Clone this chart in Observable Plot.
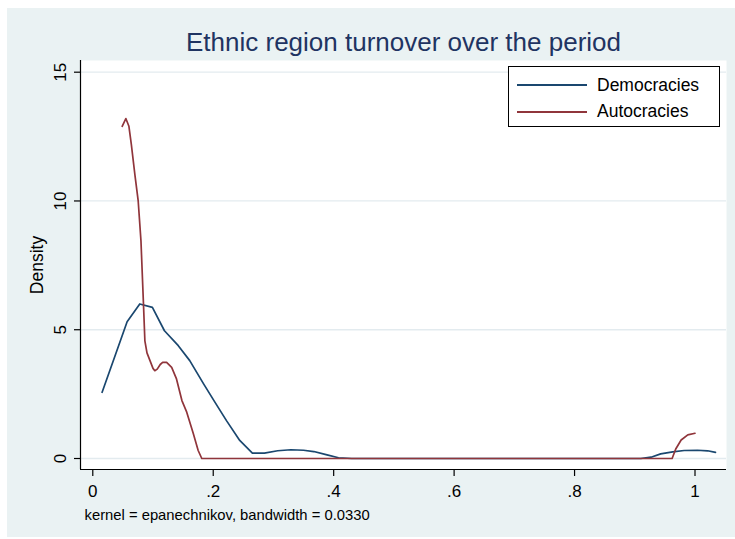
<!DOCTYPE html>
<html><head><meta charset="utf-8">
<script src="https://cdn.jsdelivr.net/npm/d3@7"></script>
<script src="https://cdn.jsdelivr.net/npm/@observablehq/plot@0.6"></script>
<style>
body{margin:0;background:#fff;}
#wrap{position:relative;width:735px;height:539px;font-family:"Liberation Sans",Arial,Helvetica,sans-serif;overflow:hidden;}
#bg{position:absolute;left:7px;top:8px;right:0;bottom:2px;background:#eaf2f3;}
#chart{position:absolute;left:0;top:0;}
#legend{position:absolute;left:508px;top:66px;width:210px;height:59px;border:1px solid #000;background:#fff;}
.row{position:absolute;left:0;height:20px;display:flex;align-items:center;font-size:17.5px;color:#000;}
.sw{display:inline-block;width:70px;height:2px;margin-left:8px;margin-right:10px;}
</style></head>
<body>
<div id="wrap"><div id="bg"></div><div id="chart"></div><div id="legend"></div></div>
<script>
const title = "Ethnic region turnover over the period";
const caption = "kernel = epanechnikov, bandwidth = 0.0330";
const yLabel = "Density";
const seriesNames = ["Democracies", "Autocracies"];
const seriesColors = ["#1a476f", "#90353b"];
const xTicks = [0, 0.2, 0.4, 0.6, 0.8, 1];
const xTickLabels = ["0", ".2", ".4", ".6", ".8", "1"];
const yTicks = [0, 5, 10, 15];
const yTickLabels = ["0", "5", "10", "15"];

const demX = [0.0155, 0.037, 0.057, 0.078, 0.099, 0.119, 0.142, 0.161, 0.184, 0.203, 0.222, 0.244, 0.265, 0.285, 0.307, 0.329, 0.350, 0.367, 0.389, 0.408, 0.43, 0.91, 0.927, 0.943, 0.963, 0.982, 1.004, 1.021, 1.034];
const demY = [2.57, 3.99, 5.31, 6.00, 5.87, 4.96, 4.38, 3.80, 2.90, 2.18, 1.47, 0.70, 0.21, 0.21, 0.30, 0.34, 0.32, 0.27, 0.14, 0.03, 0, 0, 0.05, 0.18, 0.26, 0.31, 0.32, 0.30, 0.24];

const autX = [0.0488, 0.0549, 0.060, 0.064, 0.070, 0.0754, 0.080, 0.084, 0.0865, 0.090, 0.095, 0.100, 0.103, 0.107, 0.112, 0.116, 0.1226, 0.131, 0.139, 0.148, 0.156, 0.167, 0.175, 0.181, 0.962, 0.968, 0.977, 0.988, 1.0];
const autY = [12.9, 13.2, 12.9, 12.2, 11.0, 10.0, 8.45, 6.1, 4.57, 4.1, 3.8, 3.5, 3.41, 3.47, 3.65, 3.73, 3.73, 3.54, 3.09, 2.25, 1.8, 0.96, 0.31, 0.0, 0, 0.37, 0.72, 0.92, 0.98];

const dem = demX.map((x, i) => ({x, y: demY[i]}));
const aut = autX.map((x, i) => ({x, y: autY[i]}));

const xDom = [-0.0204, 1.0523];
const yDom = [-0.427, 15.454];

const chart = Plot.plot({
  width: 735, height: 539,
  marginLeft: 80, marginRight: 9, marginTop: 60, marginBottom: 70,
  style: {background: "transparent", fontFamily: '"Liberation Sans", Arial, Helvetica, sans-serif', color: "#000", overflow: "visible"},
  x: {domain: xDom, label: null},
  y: {domain: yDom, label: null},
  marks: [
    Plot.frame({fill: "white", stroke: null}),
    Plot.gridY(yTicks, {stroke: "#e3ebef", strokeOpacity: 1, strokeWidth: 1.3}),
    Plot.line(dem, {x: "x", y: "y", stroke: seriesColors[0], strokeWidth: 1.7}),
    Plot.line(aut, {x: "x", y: "y", stroke: seriesColors[1], strokeWidth: 1.7}),
    Plot.ruleX([xDom[0]], {stroke: "#000", strokeWidth: 1.2}),
    Plot.ruleY([yDom[0]], {stroke: "#000", strokeWidth: 1.2}),
    Plot.axisX(xTicks, {tickSize: 7, tickPadding: 8, tickFormat: (d, i) => xTickLabels[i], fontSize: 17, strokeWidth: 1.2, label: null}),
    Plot.axisY(yTicks, {tickSize: 6, tickFormat: () => "", strokeWidth: 1.2, label: null}),
    Plot.text(yTicks, {y: d => d, text: (d, i) => yTickLabels[i], frameAnchor: "left", rotate: -90, dx: -15, lineAnchor: "bottom", textAnchor: "middle", fontSize: 17}),
    Plot.text([yLabel], {frameAnchor: "left", rotate: -90, dx: -37.5, lineAnchor: "bottom", textAnchor: "middle", fontSize: 17.5}),
    Plot.text([title], {frameAnchor: "top", dy: -10, lineAnchor: "bottom", textAnchor: "middle", fontSize: 26, fill: "#1f3462"}),
    Plot.text([caption], {frameAnchor: "bottom-left", dx: 4, dy: 50, lineAnchor: "bottom", textAnchor: "start", fontSize: 14.8})
  ]
});
document.getElementById("chart").appendChild(chart);

const leg = document.getElementById("legend");
const rowTops = [8, 34.5];
seriesNames.forEach((name, i) => {
  const r = document.createElement("div");
  r.className = "row";
  r.style.top = rowTops[i] + "px";
  const sw = document.createElement("span");
  sw.className = "sw";
  sw.style.background = seriesColors[i];
  const t = document.createElement("span");
  t.textContent = name;
  r.appendChild(sw); r.appendChild(t);
  leg.appendChild(r);
});
</script>
</body></html>
